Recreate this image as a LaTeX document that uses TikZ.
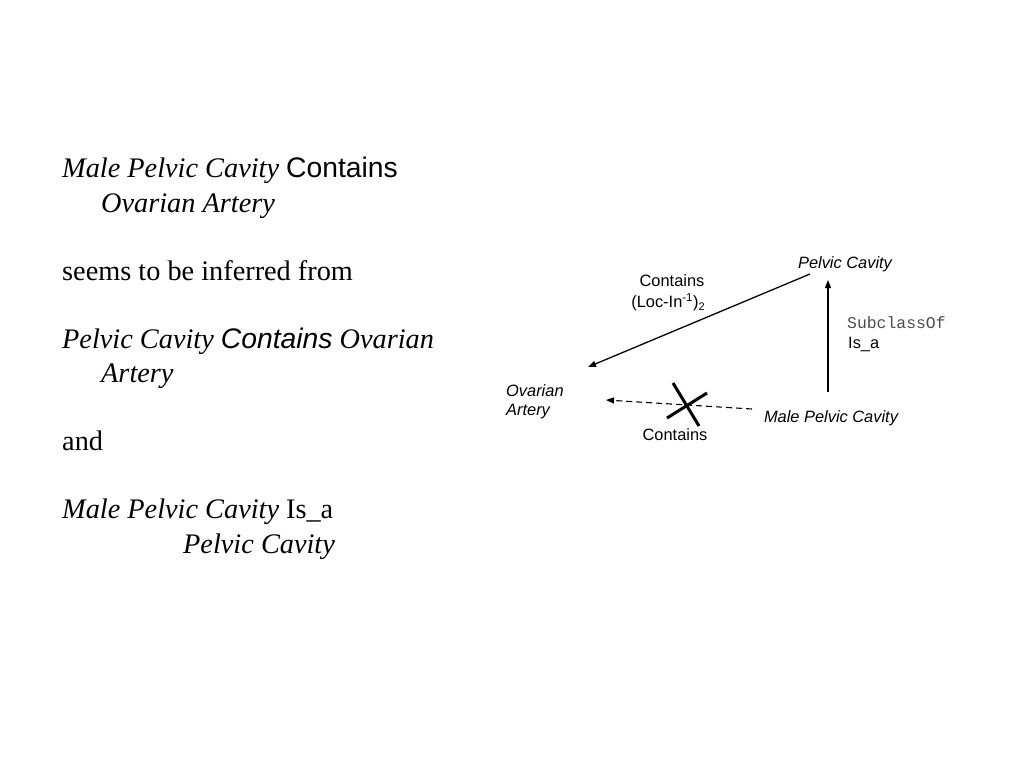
\documentclass[tikz,border=0pt]{standalone}
\usepackage{fontspec}
\setmainfont{Liberation Serif}
\setsansfont{Liberation Sans}
\setmonofont{Liberation Mono}
\usetikzlibrary{arrows.meta}
\tikzset{
  body/.style={anchor=base west, inner sep=0pt, font=\fontsize{28.3}{32}\selectfont},
  lbl/.style={inner sep=0pt, font=\sffamily\fontsize{16.4}{18}\selectfont},
  ilbl/.style={inner sep=0pt, font=\sffamily\itshape\fontsize{16.4}{18}\selectfont},
  arr/.style={line width=1.3pt, -{Triangle[length=8pt,width=6pt]}},
  cross/.style={line width=3pt}
}
\begin{document}
\begin{tikzpicture}[x=1pt,y=-1pt]
\useasboundingbox (0,0) rectangle (1024,768);
% left text
\node[body] (t1) at (62,177) {\textit{Male Pelvic Cavity} \textsf{Contains}};
\node[body] (t2) at (101,212) {\textit{Ovarian Artery}};
\node[body] (t3) at (62,280) {seems to be inferred from};
\node[body] (t4) at (62,348) {\textit{Pelvic Cavity} \textsf{\itshape Contains} \textit{Ovarian}};
\node[body] (t5) at (101,382) {\textit{Artery}};
\node[body] (t6) at (62,450) {and};
\node[body] (t7) at (62,518) {\textit{Male Pelvic Cavity} Is\_a};
\node[body] (t8) at (183,553) {\textit{Pelvic Cavity}};
% diagram
\node[ilbl] (pc) at (845,264) {Pelvic Cavity};
\node[ilbl] (mpc) at (831,418) {Male Pelvic Cavity};
\node[ilbl, align=left, anchor=west] (oa) at (506,402) {Ovarian\\[1pt]Artery};
\node[lbl] (c1) at (672,281) {Contains};
\node[lbl] (c2) at (668,302) {(Loc-In\textsuperscript{-1})\raisebox{-3pt}{\fontsize{11}{12}\selectfont 2}};
\node[inner sep=0pt, anchor=west, font=\ttfamily\fontsize{16.4}{18}\selectfont, text=black!70] (sub) at (847,323) {SubclassOf};
\node[lbl, anchor=west] (isa) at (848,344) {Is\_a};
\node[lbl] (c3) at (675,435) {Contains};
\coordinate (a1s) at (810,274);
\coordinate (a1e) at (588,367);
\coordinate (a2s) at (828,392);
\coordinate (a2e) at (828,280);
\coordinate (a3s) at (752,409);
\coordinate (a3e) at (606,400);
\draw[arr] (a1s) -- (a1e);
\draw[arr] (a2s) -- (a2e);
\draw[arr, dash pattern=on 6pt off 4pt, line width=1.1pt] (a3s) -- (a3e);
\coordinate (x1) at (673,383);
\coordinate (x2) at (699,426);
\coordinate (x3) at (667,418);
\coordinate (x4) at (707,393);
\draw[cross] (x1) -- (x2);
\draw[cross] (x3) -- (x4);
\end{tikzpicture}
\end{document}
